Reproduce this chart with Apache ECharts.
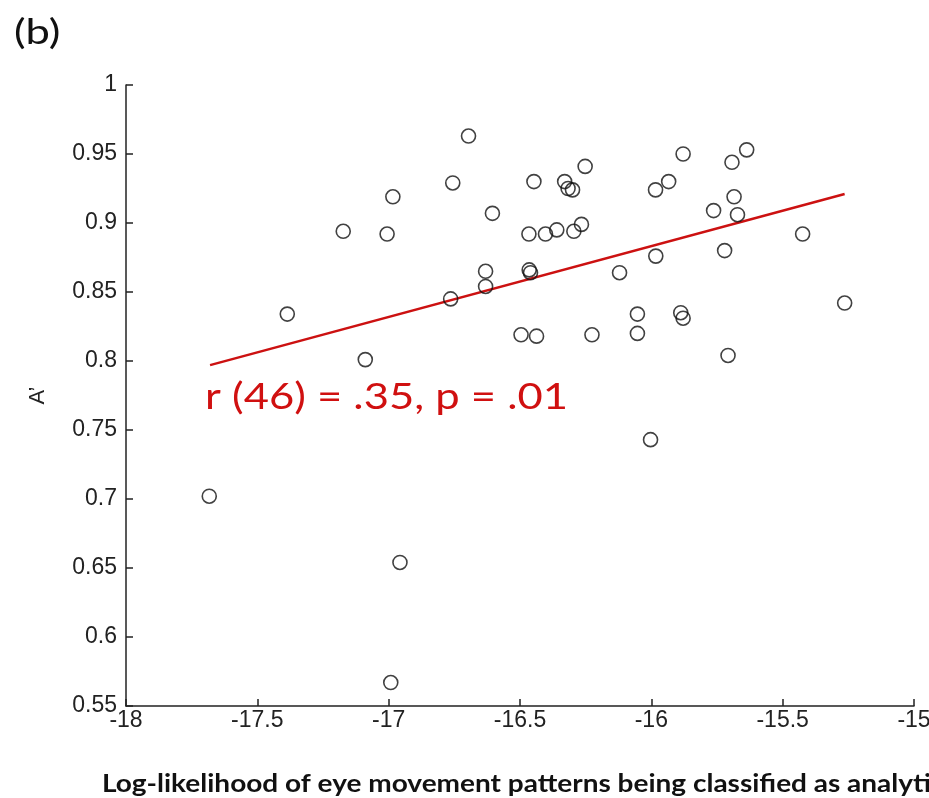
<!DOCTYPE html>
<html>
<head>
<meta charset="utf-8">
<script src="https://cdn.jsdelivr.net/npm/echarts@6/dist/echarts.min.js"></script>
<style>
  html, body { margin: 0; padding: 0; background: #fff; }
  #chart { width: 929px; height: 798px; }
</style>
</head>
<body>
<div id="chart"></div>
<script>
// log-likelihood (x) and A' (y) for each participant
var xVals = [-17.386, -17.173, -17.006, -16.984, -17.089, -16.696, -16.756, -16.605, -16.631, -16.631,
             -16.764, -16.447, -16.330, -16.317, -16.300, -16.252, -16.466, -16.403, -16.360, -16.295,
             -16.266, -16.465, -16.460, -16.496, -16.437, -16.226, -16.121, -16.053, -16.053, -15.983,
             -15.984, -15.934, -15.879, -15.888, -15.879, -15.708, -15.721, -15.763, -15.685, -15.672,
             -15.693, -15.637, -15.424, -15.264, -17.683, -16.957, -16.992, -16.003];
var yVals = [0.834, 0.894, 0.892, 0.919, 0.801, 0.963, 0.929, 0.907, 0.865, 0.854,
             0.845, 0.930, 0.930, 0.925, 0.924, 0.941, 0.892, 0.892, 0.895, 0.894,
             0.899, 0.866, 0.864, 0.819, 0.818, 0.819, 0.864, 0.834, 0.820, 0.876,
             0.924, 0.930, 0.950, 0.835, 0.831, 0.804, 0.880, 0.909, 0.919, 0.906,
             0.944, 0.953, 0.892, 0.842, 0.702, 0.654, 0.567, 0.743];

// fit line end points
var fitX = [-17.68, -15.264];
var fitY = [0.797, 0.921];

var statText = 'r (46) = .35, p = .01';
var xTitle = 'Log-likelihood of eye movement patterns being classified as analytic';

var points = [];
for (var i = 0; i < xVals.length; i++) {
    points.push([xVals[i], yVals[i]]);
}
var fitLine = [];
for (var j = 0; j < fitX.length; j++) {
    fitLine.push([fitX[j], fitY[j]]);
}

var myChart = echarts.init(document.getElementById('chart'));
var axisFont = { fontFamily: 'Liberation Sans, Arial, sans-serif', fontSize: 23, color: '#222' };

var option = {
    backgroundColor: '#fff',
    animation: false,
    grid: { left: 126, right: 15, top: 85, bottom: 92, outerBoundsMode: 'none', containLabel: false },
    xAxis: {
        type: 'value',
        min: -18, max: -15, interval: 0.5,
        axisLine: { lineStyle: { color: '#222', width: 1.5 } },
        axisTick: { inside: true, length: 7, lineStyle: { color: '#222', width: 1.5 } },
        axisLabel: Object.assign({ margin: 3 }, axisFont),
        splitLine: { show: false }
    },
    yAxis: {
        type: 'value',
        min: 0.55, max: 1, interval: 0.05,
        name: 'A\u2019',
        nameLocation: 'middle',
        nameRotate: 90,
        nameGap: 77,
        nameTextStyle: { fontFamily: 'Liberation Sans, Arial, sans-serif', fontSize: 22, color: '#222' },
        axisLine: { lineStyle: { color: '#222', width: 1.5 } },
        axisTick: { inside: true, length: 7, lineStyle: { color: '#222', width: 1.5 } },
        axisLabel: Object.assign({
            margin: 9,
            formatter: function (v) { return String(Math.round(v * 100) / 100); }
        }, axisFont),
        splitLine: { show: false }
    },
    series: [
        {
            type: 'scatter',
            data: points,
            symbol: 'circle',
            symbolSize: 14,
            itemStyle: { color: 'rgba(255,255,255,0)', borderColor: '#111', borderWidth: 1.6 },
            z: 3
        },
        {
            type: 'line',
            data: fitLine,
            symbol: 'none',
            lineStyle: { color: '#cc1111', width: 2.5 },
            z: 2
        }
    ],
    graphic: [
        {
            type: 'text', x: 14, y: 16, scaleX: 1.28,
            style: { text: '(b)', font: '34px Lato, sans-serif', fill: '#111' }
        },
        {
            type: 'text', x: 205, y: 379, scaleX: 1.21,
            style: { text: statText, font: '36px Lato, sans-serif', fill: '#d01010' }
        },
        {
            type: 'text', x: 102, y: 771, scaleX: 1.12,
            style: { text: xTitle, font: 'bold 25px Lato, sans-serif', fill: '#111' }
        }
    ]
};

myChart.setOption(option);
</script>
</body>
</html>
